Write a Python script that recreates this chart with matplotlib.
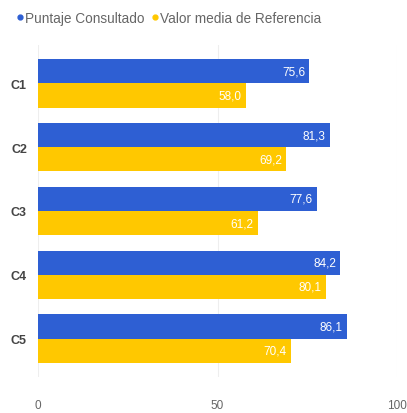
import matplotlib
matplotlib.use("Agg")
import matplotlib.pyplot as plt
import numpy as np
from matplotlib.lines import Line2D

categories = ["C1", "C2", "C3", "C4", "C5"]
puntaje = [75.6, 81.3, 77.6, 84.2, 86.1]
referencia = [58.0, 69.2, 61.2, 80.1, 70.4]
series_names = ["Puntaje Consultado", "Valor media de Referencia"]
xticks = [0, 50, 100]

blue = "#2E5FD3"
yellow = "#FFC800"

plt.rcParams['font.family'] = ['Liberation Sans', 'DejaVu Sans']

fig = plt.figure(figsize=(4.07, 4.14), dpi=100)
ax = fig.add_axes([38/407, 1 - 378/414, (397-38)/407, (378-46)/414])

y = np.arange(len(categories))
h = 0.38
b1 = ax.barh(y - h/2, puntaje, height=h, color=blue)
b2 = ax.barh(y + h/2, referencia, height=h, color=yellow)

def lab(v):
    return f"{v:.1f}".replace(".", ",")

for bars, vals in ((b1, puntaje), (b2, referencia)):
    for r, v in zip(bars, vals):
        ax.text(r.get_width() - 1.2, r.get_y() + r.get_height()/2, lab(v),
                ha="right", va="center", color="white", fontsize=8.5)

ax.set_ylim(len(categories) - 0.4, -0.6)
ax.set_xlim(0, 100)
ax.set_yticks(y)
ax.set_yticklabels(categories, fontsize=9, color="#444444", fontweight="bold")
ax.set_xticks(xticks)
ax.set_xticklabels([str(t) for t in xticks], fontsize=8.5, color="#666666")
ax.tick_params(axis="both", length=0)
ax.tick_params(axis="x", pad=16)
ax.tick_params(axis="y", pad=8)
for s in ax.spines.values():
    s.set_visible(False)
ax.grid(axis="x", color="#eeeeee", linewidth=0.8)
ax.set_axisbelow(True)

handles = [Line2D([], [], marker="o", linestyle="", color=blue, markersize=3.5),
           Line2D([], [], marker="o", linestyle="", color=yellow, markersize=3.5)]
fig.legend(handles, series_names, loc="upper left", bbox_to_anchor=(0.005, 0.995),
           ncol=2, frameon=False, fontsize=9.8, handletextpad=-0.2, handlelength=1.2,
           columnspacing=0.15, labelcolor="#666666", borderaxespad=0.3)

fig.savefig("out.png", dpi=100)
